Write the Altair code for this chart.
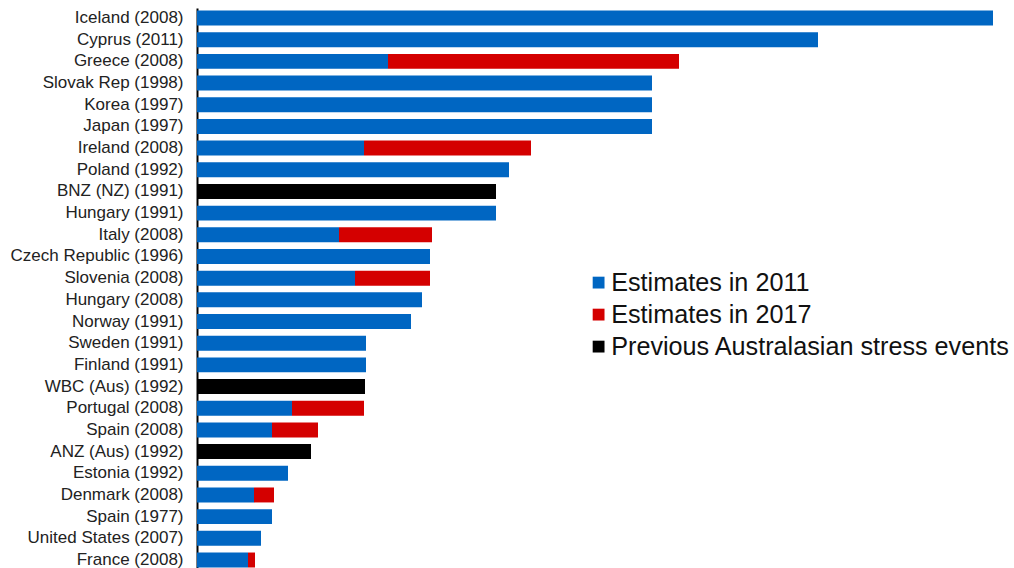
import altair as alt
import pandas as pd

labels = ["Iceland (2008)", "Cyprus (2011)", "Greece (2008)", "Slovak Rep (1998)", "Korea (1997)",
          "Japan (1997)", "Ireland (2008)", "Poland (1992)", "BNZ (NZ) (1991)", "Hungary  (1991)",
          "Italy (2008)", "Czech Republic (1996)", "Slovenia (2008)", "Hungary (2008)", "Norway (1991)",
          "Sweden (1991)", "Finland (1991)", "WBC (Aus) (1992)", "Portugal (2008)", "Spain (2008)",
          "ANZ (Aus) (1992)", "Estonia (1992)", "Denmark (2008)", "Spain (1977)", "United States (2007)",
          "France (2008)"]
est_2011 = [79.6, 62.1, 19.1, 45.5, 45.5, 45.5, 16.7, 31.2, 0, 29.9,
            14.2, 23.3, 15.8, 22.5, 21.4, 16.9, 16.9, 0, 9.5, 7.5,
            0, 9.1, 5.7, 7.5, 6.4, 5.1]
est_2017 = [0, 0, 29.1, 0, 0, 0, 16.7, 0, 0, 0,
            9.3, 0, 7.5, 0, 0, 0, 0, 0, 7.2, 4.6,
            0, 0, 2.0, 0, 0, 0.7]
australasian = [0, 0, 0, 0, 0, 0, 0, 0, 29.9, 0,
                0, 0, 0, 0, 0, 0, 0, 16.8, 0, 0,
                11.4, 0, 0, 0, 0, 0]
series = ["Estimates in 2011", "Estimates in 2017", "Previous Australasian stress events"]
colors = ["#0066c2", "#d40000", "#000000"]

rows = []
for i, lab in enumerate(labels):
    for k, vals in enumerate([est_2011, est_2017, australasian]):
        if vals[i] > 0:
            rows.append({"label": lab, "series": series[k], "value": vals[i], "ord": k})
df = pd.DataFrame(rows)

chart = alt.Chart(df).mark_bar().encode(
    y=alt.Y("label:N", sort=labels,
            scale=alt.Scale(paddingInner=0.31, paddingOuter=0.07, align=0.83),
            axis=alt.Axis(title=None, ticks=False, domainColor="#000000", domainWidth=2,
                          labelFont="Liberation Sans", labelFontSize=17, labelColor="#222222",
                          labelPadding=14, labelLimit=300)),
    x=alt.X("value:Q", stack="zero", scale=alt.Scale(domain=[0, 81.7], nice=False, zero=True),
            axis=None),
    color=alt.Color("series:N", scale=alt.Scale(domain=series, range=colors),
                    legend=alt.Legend(title=None, orient="none", legendX=389, legendY=262,
                                      symbolType="square", symbolSize=140, symbolStrokeWidth=0,
                                      labelFont="Liberation Sans", labelFontSize=25.2,
                                      labelColor="#111111", labelOffset=0, rowPadding=6,
                                      labelLimit=500, padding=0)),
    order=alt.Order("ord:Q"),
).properties(
    width=817, height=560,
    autosize=alt.AutoSizeParams(type="none"),
    padding={"left": 197, "top": 8, "right": 0, "bottom": 0},
).configure_view(stroke=None).configure_axis(grid=False)

chart.save("out.html", embed_options={"renderer": "svg", "actions": False})
